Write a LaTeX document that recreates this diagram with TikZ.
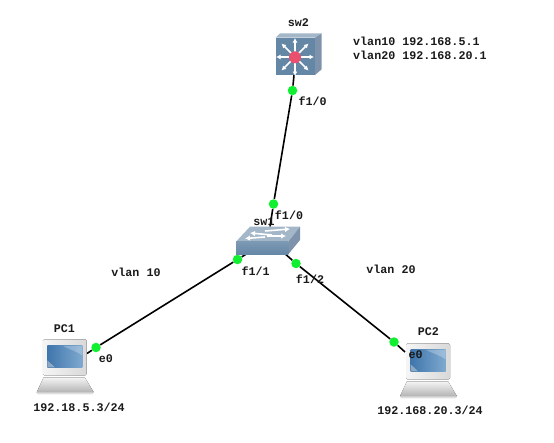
\documentclass[tikz,border=0pt]{standalone}
\usepackage{fontspec}
\setmainfont{Liberation Mono}
\usetikzlibrary{calc,arrows.meta,backgrounds}
\definecolor{portgreen}{HTML}{10F030}
\definecolor{faceblue}{HTML}{6587A6}
\definecolor{topblue}{HTML}{A3B7C9}
\definecolor{sideblue}{HTML}{7E93AB}
\definecolor{hubpink}{HTML}{E8506E}
\definecolor{screenl}{HTML}{3F76AC}
\definecolor{screenr}{HTML}{7FA9CF}
\tikzset{
  iconbox/.style={inner sep=0pt,outer sep=0pt,minimum width=#1},
  port/.style={circle,fill=portgreen,inner sep=0pt,minimum size=9.5pt},
  link/.style={line width=1.6pt,black},
  lbl/.style={inner sep=0pt,font=\fontsize{11.7}{12}\selectfont\bfseries,text=black!90},
  whitearrow/.style={white,line width=1.5pt,-{Latex[length=4.5pt,width=5pt]}},
  smallarrow/.style={white,line width=1.6pt,-{Latex[length=5pt,width=5.5pt]}}
}
\newcommand{\pcicon}[2]{% x, y monitor top-left
  \begin{scope}[shift={(#1,#2)}]
    \fill[bottom color=gray!60,top color=gray!8] (1,38) -- (42,38) -- (51,53) -- (-6,53) -- cycle;
    \fill[gray!25] (-6,53) -- (51,53) -- (50,55) -- (-5,55) -- cycle;
    \fill[left color=gray!8,right color=gray!30,rounded corners=1.5pt] (0,0) rectangle (44,36);
    \fill[left color=screenl,right color=screenr] (4.7,6.5) rectangle (39.7,28);
    \fill[white,opacity=.25] (20,6.5) -- (39.7,6.5) -- (39.7,16) .. controls (32,11) and (26,10) .. cycle;
    \fill[black!15,opacity=.5] (4.7,28) -- (4.7,21) -- (12,28) -- cycle;
  \end{scope}}
\begin{document}
\begin{tikzpicture}[x=1pt,y=-1pt]
\useasboundingbox (0,0) rectangle (554,442);
% icon anchors
\node[iconbox=46pt,minimum height=42pt] (sw2) at (298.7,54.2) {};
\node[iconbox=64pt,minimum height=28pt] (sw1) at (268,240.5) {};
\node[iconbox=58pt,minimum height=53pt] (PC1) at (65.5,366) {};
\node[iconbox=58pt,minimum height=53pt] (PC2) at (429,370) {};
% sw2 icon
\fill[topblue] (275.7,37.7) -- (280,33.3) -- (321.7,33.3) -- (315,37.7) -- cycle;
\fill[sideblue] (315,37.7) -- (321.7,33.3) -- (321.7,69.3) -- (315,75) -- cycle;
\fill[faceblue] (275.7,37.7) rectangle (315,75);
\foreach \a in {0,45,...,315}
  \draw[whitearrow] (295,57) ++(\a:4) -- ++(\a:15);
\fill[hubpink] (295,57.3) circle (6pt);
% sw1 icon
\fill[topblue] (236,241.7) -- (250,226.7) -- (300,226.7) -- (288.3,241.7) -- cycle;
\fill[sideblue] (288.3,241.7) -- (300,226.7) -- (300,240) -- (288.3,254.3) -- cycle;
\fill[top color=faceblue!85!white,bottom color=faceblue] (236,241.7) rectangle (288.3,254.3);
\draw[smallarrow] (265,231) -- (290,229);
\draw[smallarrow] (272,235) -- (250,233);
\draw[smallarrow] (267,236) -- (286,236);
\draw[smallarrow] (265,237) -- (245,238.5);
% pc icons
\pcicon{42.7}{339.3}
\pcicon{406}{343.3}
% ports
\node[port] (p1) at (292.5,90.5) {};
\node[port] (p2) at (273.5,204) {};
\node[port] (p3) at (237.5,259.5) {};
\node[port] (p4) at (96,347.5) {};
\node[port] (p5) at (296,263.5) {};
\node[port] (p6) at (394,342) {};
% links
\begin{scope}[on background layer]
\draw[link] ($(sw2.south)+(-4.7,0)$) -- (p1) -- (p2) -- ($(sw1.north)+(2,0)$);
\draw[link] ($(sw1.south)+(-20,-1.5)$) -- (p3) -- (p4) -- ($(PC1.north)+(21.5,14)$);
\draw[link] ($(sw1.south)+(15,-2.5)$) -- (p5) -- (p6) -- ($(PC2.north)+(-24,8.5)$);
\end{scope}
% labels
\node[lbl] (tsw2) at (298.3,22.7) {sw2};
\node[lbl] (tf20) at (312.7,101.7) {f1/0};
\node[lbl,anchor=west] (tv10) at (353,41) {vlan10 192.168.5.1};
\node[lbl,anchor=west] (tv20) at (353,55) {vlan20 192.168.20.1};
\node[lbl] (tsw1) at (264,221.7) {sw1};
\node[lbl] (tf10) at (289,215.7) {f1/0};
\node[lbl] (tf11) at (255.7,271.7) {f1/1};
\node[lbl] (tf12) at (310,279) {f1/2};
\node[lbl] (tvl1) at (136,272) {vlan 10};
\node[lbl] (tvl2) at (391,269) {vlan 20};
\node[lbl] (tpc1) at (64.3,328.3) {PC1};
\node[lbl] (te1) at (106,359) {e0};
\node[lbl] (tip1) at (79,407.3) {192.18.5.3/24};
\node[lbl] (tpc2) at (428.3,331.7) {PC2};
\node[lbl] (te2) at (415.7,355) {e0};
\node[lbl] (tip2) at (430,410) {192.168.20.3/24};
\end{tikzpicture}
\end{document}
